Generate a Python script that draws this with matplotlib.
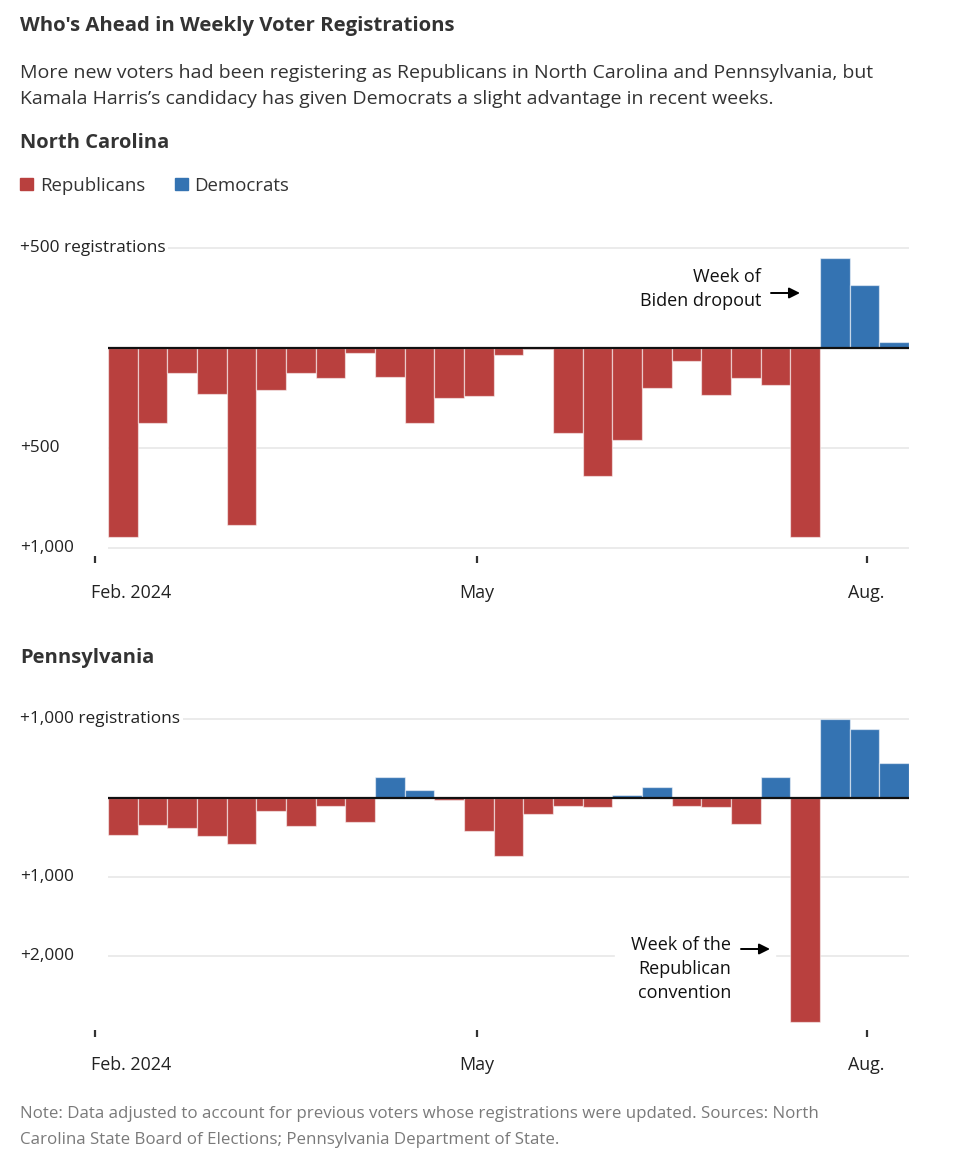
import numpy as np
import pandas as pd
import matplotlib
matplotlib.use("Agg")
import matplotlib.pyplot as plt

W, H = 960, 1160
RED = "#b9403e"
BLUE = "#3473b2"

# weeks starting Sunday 2024-02-04; positive = Democrats ahead, negative = Republicans ahead
start = pd.Timestamp("2024-02-04")
n_weeks = 27
nc_net = [-945, -376, -129, -234, -886, -214, -126, -153, -28, -149, -379, -254, -244,
          -38, -9, -426, -643, -464, -203, -66, -239, -151, -189, -948, 446, 311, 29]
pa_net = [-468, -342, -376, -472, -582, -161, -354, -101, -295, 266, 101, -25, -418,
          -730, -199, -101, -114, 42, 139, -97, -110, -321, 266, -2832, 1000, 877, 451]

nc_grid = [500, -500, -1000]
nc_grid_labels = ["+500 registrations", "+500", "+1,000"]
pa_grid = [1000, -1000, -2000]
pa_grid_labels = ["+1,000 registrations", "+1,000", "+2,000"]

tick_dates = ["2024-02-01", "2024-05-01", "2024-08-01"]
tick_labels = ["Feb. 2024", "May", "Aug."]

plt.rcParams["font.family"] = ["Open Sans", "DejaVu Sans"]

fig = plt.figure(figsize=(W / 100, H / 100), dpi=100)
fig.patch.set_facecolor("white")


def fy(y):
    return 1 - y / H


def ty(y):
    # text centres in Open Sans sit a little high
    return fy(y + 2.5)


PXD = 801 / (n_weeks * 7)  # pixels per day
x_days = np.arange(n_weeks) * 7
x_end = n_weeks * 7
LAB = 12.4


def panel(top, bot, zero_px, px_per_unit, values, grid, grid_labels, tick_y, label_y):
    ax = fig.add_axes([90 / W, fy(bot), 819 / W, (bot - top) / H])
    ax.set_xlim(-18 / PXD, x_end)
    ax.set_ylim((zero_px - bot) / px_per_unit, (zero_px - top) / px_per_unit)
    ax.axis("off")
    to_v = lambda px: (zero_px - px) / px_per_unit

    ax.hlines(grid, 0, x_end, color="#e6e6e6", lw=1.1, zorder=0)
    colors = [BLUE if v > 0 else RED for v in values]
    ax.bar(x_days, values, width=7, align="edge", color=colors,
           edgecolor=(1, 1, 1, 0.55), linewidth=0.9, zorder=2)
    ax.hlines(0, 0, x_end, color="#111111", lw=1.6, zorder=3)

    for v, lab in zip(grid, grid_labels):
        fig.text(20 / W, fy(zero_px - v * px_per_unit), lab, ha="left", va="center",
                 fontsize=LAB, color="#222222",
                 bbox=dict(facecolor="white", edgecolor="none", pad=2))

    for d, lab in zip(tick_dates, tick_labels):
        x = (pd.Timestamp(d) - start).days
        ax.plot([x, x], [to_v(tick_y[0]), to_v(tick_y[1])], color="#333333",
                lw=1.6, clip_on=False, solid_capstyle="butt")
        if lab == tick_labels[0]:
            ax.text(x - 4 / PXD, to_v(label_y + 2.5), lab, ha="left", va="center",
                    fontsize=12.9, color="#222222", clip_on=False)
        else:
            ax.text(x, to_v(label_y + 2.5), lab, ha="center", va="center",
                    fontsize=12.9, color="#222222", clip_on=False)
    return ax


# header
fig.text(20 / W, ty(23), "Who's Ahead in Weekly Voter Registrations", ha="left",
         va="center", fontsize=14.7, fontweight="bold", color="#333333")
fig.text(20 / W, ty(71), "More new voters had been registering as Republicans in North "
         "Carolina and Pennsylvania, but", ha="left", va="center", fontsize=14.0,
         color="#333333")
fig.text(20 / W, ty(96), "Kamala Harris\u2019s candidacy has given Democrats a slight "
         "advantage in recent weeks.", ha="left", va="center", fontsize=14.0,
         color="#333333")

fig.text(20 / W, ty(140), "North Carolina", ha="left", va="center", fontsize=14.5,
         fontweight="bold", color="#333333")
fig.text(20 / W, ty(656), "Pennsylvania", ha="left", va="center", fontsize=14.5,
         fontweight="bold", color="#333333")

# legend
fig.patches.append(plt.Rectangle((20 / W, fy(190)), 13 / W, 12 / H, color=RED,
                                 transform=fig.transFigure, figure=fig))
fig.text(40 / W, ty(183.5), "Republicans", ha="left", va="center", fontsize=13.4,
         color="#333333")
fig.patches.append(plt.Rectangle((175 / W, fy(190)), 13 / W, 12 / H, color=BLUE,
                                 transform=fig.transFigure, figure=fig))
fig.text(194 / W, ty(183.5), "Democrats", ha="left", va="center", fontsize=13.4,
         color="#333333")

ax_nc = panel(230, 600, 347.5, 0.2, nc_net, nc_grid, nc_grid_labels, (556, 563), 590)
ax_pa = panel(700, 1075, 798.3, 0.079, pa_net, pa_grid, pa_grid_labels, (1030, 1037), 1063)

# annotations
arrow_kw = dict(arrowstyle="-|>", mutation_scale=16, color="black", lw=1.4,
                shrinkA=0, shrinkB=0)
fig.text(761 / W, ty(274), "Week of", ha="right", va="center", fontsize=13, color="#111111")
fig.text(761 / W, ty(298), "Biden dropout", ha="right", va="center", fontsize=13,
         color="#111111")
fig.add_artist(matplotlib.patches.FancyArrowPatch(
    (771 / W, fy(293)), (800 / W, fy(293)), transform=fig.transFigure, **arrow_kw))

fig.add_artist(matplotlib.patches.Rectangle((615 / W, fy(959)), 160 / W, 5 / H,
                                            color="white", transform=fig.transFigure))
for y, line in zip([943, 967, 990], ["Week of the", "Republican", "convention"]):
    fig.text(731 / W, ty(y), line, ha="right", va="center", fontsize=13, color="#111111")
fig.add_artist(matplotlib.patches.FancyArrowPatch(
    (741 / W, fy(949)), (770 / W, fy(949)), transform=fig.transFigure, **arrow_kw))

# note
fig.text(20 / W, ty(1112), "Note: Data adjusted to account for previous voters whose "
         "registrations were updated. Sources: North", ha="left", va="center",
         fontsize=12.2, color="#7a7a7a")
fig.text(20 / W, ty(1137), "Carolina State Board of Elections; Pennsylvania Department "
         "of State.", ha="left", va="center", fontsize=12.2, color="#7a7a7a")

fig.savefig("out.png", dpi=100)
